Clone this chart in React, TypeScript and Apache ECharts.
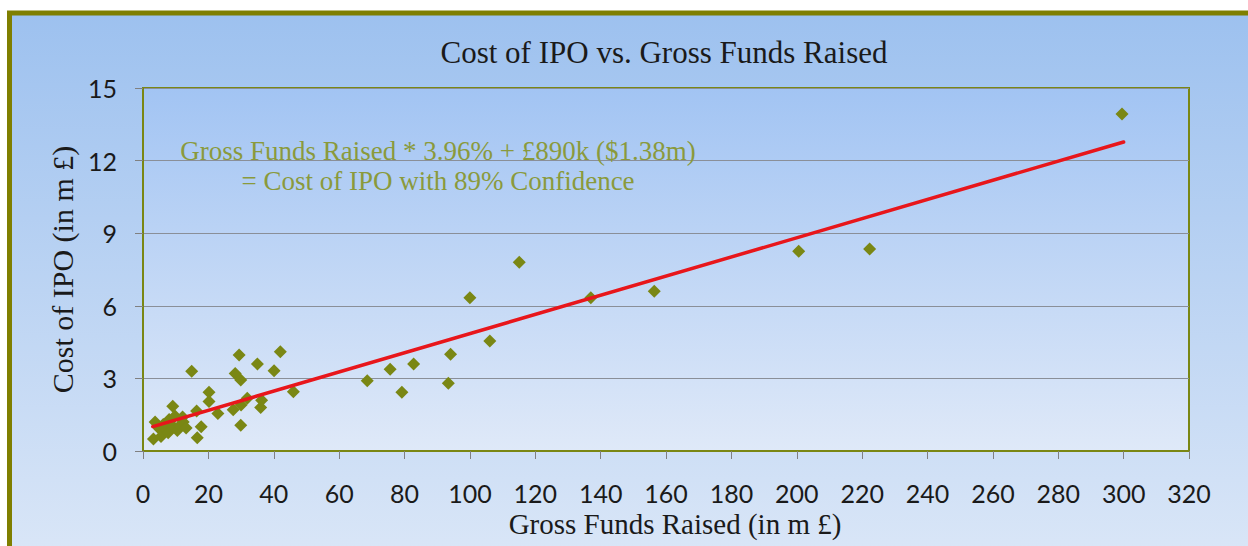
import React, { useEffect, useRef } from "react";
import * as echarts from "echarts";

const chartTitle = "Cost of IPO vs. Gross Funds Raised";
const xAxisName = "Gross Funds Raised (in m £)";
const yAxisName = "Cost of IPO (in m £)";
const noteLines = ["Gross Funds Raised * 3.96% + £890k ($1.38m)", "= Cost of IPO with 89% Confidence"];

// Gross funds raised (m £)
const fundsRaised = [
  3.2, 3.7, 4.5, 5.2, 5.5, 6.2, 6.7, 7.7, 8.0, 9.1, 9.3, 9.8, 10.5, 11.3, 12.1, 12.3, 13.2,
  14.9, 16.4, 16.6, 17.8, 20.2, 20.2, 22.9, 27.6, 28.2, 29.4, 29.9, 29.9, 30.0, 31.9, 35.0,
  36.0, 36.3, 40.1, 42.0, 46.0, 68.6, 75.6, 79.2, 82.8, 93.4, 94.1, 100.0, 106.1, 115.1,
  137.0, 156.4, 200.6, 222.3, 299.5,
];
// Cost of IPO (m £)
const ipoCost = [
  0.5, 1.2, 1.0, 0.9, 0.6, 1.1, 0.95, 0.75, 1.3, 1.85, 1.0, 1.45, 0.85, 1.05, 1.4, 1.2, 0.95,
  3.3, 1.65, 0.55, 1.0, 2.43, 2.05, 1.55, 1.7, 3.2, 3.97, 2.93, 1.06, 1.9, 2.18, 3.6,
  1.8, 2.1, 3.32, 4.1, 2.45, 2.9, 3.38, 2.43, 3.6, 2.8, 4.0, 6.33, 4.55, 7.8,
  6.33, 6.6, 8.25, 8.35, 13.93,
];
// Regression line end points
const trendX = [3, 300];
const trendY = [1.01, 12.77];

const OLIVE = "#7a8714";
const SERIF = "'Liberation Serif', 'Times New Roman', serif";
const SANS = "Lato, 'Open Sans', sans-serif";

export default function App() {
  const ref = useRef<HTMLDivElement>(null);
  useEffect(() => {
    document.body.style.margin = "0";
    const chart = echarts.init(ref.current!, null, { renderer: "svg" });
    const points = fundsRaised.map((x, i) => [x, ipoCost[i]]);
    const trend = trendX.map((x, i) => [x, trendY[i]]);
    chart.setOption({
      animation: false,
      backgroundColor: "#ffffff",
      title: {
        text: chartTitle,
        left: 659,
        top: 32,
        textAlign: "center",
        textStyle: { fontFamily: SERIF, fontSize: 31, fontWeight: "normal", color: "#1a1a1a" },
      },
      graphic: [
        {
          type: "rect",
          z: -10,
          shape: { x: 9.5, y: 13, width: 1300, height: 600 },
          style: {
            fill: new echarts.graphic.LinearGradient(0, 0, 0, 1, [
              { offset: 0, color: "#9dc1ef" },
              { offset: 1, color: "#e0eaf8" },
            ]),
            stroke: "#7f7f00",
            lineWidth: 5,
          },
        },
        {
          type: "text",
          z: 10,
          x: 438,
          y: 166,
          style: {
            text: noteLines.join("\n"),
            fill: "#8a9a3c",
            font: `27px ${SERIF}`,
            align: "center",
            verticalAlign: "middle",
            lineHeight: 30,
          },
        },
      ],
      grid: {
        left: 143,
        right: 59,
        top: 88,
        bottom: 95,
        show: true,
        borderColor: OLIVE,
        borderWidth: 2,
        backgroundColor: new echarts.graphic.LinearGradient(0, 0, 0, 1, [
          { offset: 0, color: "#a2c4f3" },
          { offset: 1, color: "#dfe9f8" },
        ]),
      },
      xAxis: {
        type: "value",
        min: 0,
        max: 320,
        interval: 20,
        name: xAxisName,
        nameLocation: "middle",
        nameGap: 54,
        nameTextStyle: { fontFamily: SERIF, fontSize: 29, color: "#1a1a1a", padding: [0, 0, 0, 18] },
        axisLine: { show: true, lineStyle: { color: OLIVE, width: 2 } },
        axisTick: { show: true, length: 8, lineStyle: { color: "#808080" } },
        axisLabel: { margin: 29, fontFamily: SANS, fontSize: 25, color: "#1a1a1a" },
        splitLine: { show: false },
      },
      yAxis: {
        type: "value",
        min: 0,
        max: 15,
        interval: 3,
        name: yAxisName,
        nameLocation: "middle",
        nameGap: 62,
        nameTextStyle: { fontFamily: SERIF, fontSize: 30, color: "#1a1a1a" },
        axisLine: { show: true, lineStyle: { color: OLIVE, width: 2 } },
        axisTick: { show: true, length: 8, lineStyle: { color: "#808080" } },
        axisLabel: { margin: 26, fontFamily: SANS, fontSize: 25, color: "#1a1a1a" },
        splitLine: { show: true, lineStyle: { color: "#8a8f98", width: 1 } },
      },
      series: [
        {
          type: "scatter",
          data: points,
          symbol: "diamond",
          symbolSize: 13,
          itemStyle: { color: OLIVE, opacity: 1 },
          z: 3,
        },
        {
          type: "line",
          data: trend,
          symbol: "none",
          lineStyle: { color: "#e8161b", width: 3.5, cap: "round" },
          z: 4,
        },
      ],
    });
    return () => chart.dispose();
  }, []);
  return <div ref={ref} style={{ width: 1248, height: 546 }} />;
}
